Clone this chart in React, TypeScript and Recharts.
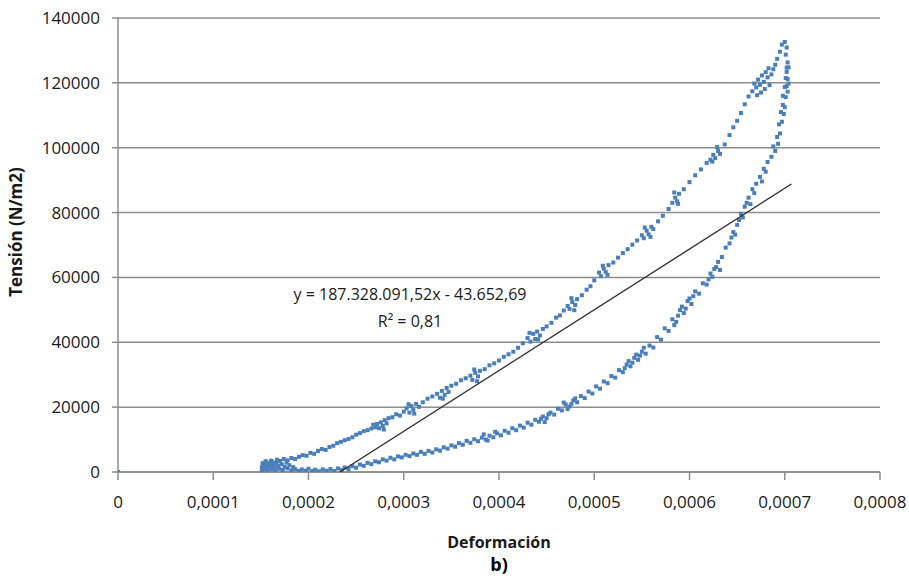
import { CartesianGrid, Scatter, ScatterChart, XAxis, YAxis } from 'recharts';

const xTicks = [0, 0.0001, 0.0002, 0.0003, 0.0004, 0.0005, 0.0006, 0.0007, 0.0008];
const yTicks = [0, 20000, 40000, 60000, 80000, 100000, 120000, 140000];

// lower branch (loading): [strain, stress]
const loadingBranch: [number, number][] = [
  [0, 0],
  [0.000151, 300], [0.000151, 1500], [0.000152, 2700], [0.000153, 800], [0.000154, 2000],
  [0.000155, 3300], [0.000156, 1200], [0.000157, 400], [0.000158, 2500], [0.000159, 1700],
  [0.00016, 3000], [0.000161, 900], [0.000162, 2200], [0.000164, 1500], [0.000165, 500],
  [0.000166, 2800], [0.000168, 1900], [0.000169, 1000], [0.00017, 3400], [0.000172, 2400],
  [0.000173, 600], [0.000175, 1600], [0.000177, 2900], [0.000178, 1100], [0.00018, 2100],
  [0.000182, 500], [0.000184, 1500], [0.000186, 900], [0.00019, 300], [0.000193, 800],
  [0.000197, 400], [0.0002, 1000], [0.000204, 300], [0.000207, 700], [0.000211, 200],
  [0.000215, 800], [0.000219, 400], [0.000223, 900], [0.000227, 300], [0.000231, 1100],
  [0.000235, 600], [0.000238, 1400], [0.000242, 900], [0.000246, 1800], [0.00025, 1300],
  [0.000254, 2300], [0.000258, 1900], [0.000262, 2800], [0.000266, 2400], [0.00027, 3300],
  [0.000274, 3000], [0.000278, 3900], [0.000282, 3500], [0.000286, 4400], [0.00029, 3900],
  [0.000294, 4800], [0.000298, 4500], [0.000302, 5300], [0.000306, 4900], [0.00031, 5700],
  [0.000314, 5300], [0.000318, 6200], [0.000322, 5600], [0.000326, 6500], [0.00033, 6000],
  [0.000334, 7000], [0.000338, 6600], [0.000342, 7600], [0.000346, 7200], [0.00035, 8200],
  [0.000354, 7800], [0.000358, 8900], [0.000362, 8400], [0.000366, 9600], [0.00037, 9000],
  [0.000374, 10100], [0.000378, 9500], [0.000382, 10600], [0.000386, 10000], [0.00039, 11200],
  [0.000394, 10700], [0.000398, 11900], [0.000402, 11300], [0.000406, 12700], [0.00041, 12100],
  [0.000414, 13500], [0.000418, 12900], [0.000422, 14300], [0.000426, 13700], [0.00043, 15200],
  [0.000434, 14600], [0.000438, 16100], [0.000442, 15500], [0.000446, 17100], [0.00045, 16600],
  [0.000454, 18300], [0.000458, 17700], [0.000462, 19500], [0.000466, 19000], [0.00047, 20800],
  [0.000474, 20200], [0.000478, 22100], [0.000482, 21500], [0.000486, 23400], [0.00049, 22800],
  [0.000494, 24800], [0.000498, 24200], [0.000502, 26400], [0.000506, 25700], [0.00051, 27900],
  [0.000514, 27400], [0.000518, 29600], [0.000522, 29100], [0.000526, 31400], [0.00053, 30800],
  [0.000534, 33100], [0.000538, 32600], [0.000542, 35200], [0.000546, 34600], [0.00055, 37100],
  [0.000554, 36500], [0.000558, 39000], [0.000562, 38400], [0.000566, 41600], [0.00057, 40800],
  [0.000574, 44300], [0.000578, 43500], [0.000582, 47100], [0.000586, 46300], [0.00059, 49900],
  [0.000594, 49000], [0.000598, 52700], [0.000602, 51800], [0.000606, 55700], [0.00061, 55000],
  [0.000614, 58200], [0.000618, 57800], [0.000622, 61200], [0.000626, 62600], [0.00063, 64800],
  [0.000634, 66300], [0.000638, 69200], [0.000642, 70500], [0.000646, 74000], [0.00065, 76200],
  [0.000654, 79600], [0.000658, 81800], [0.000662, 84600], [0.000666, 87200], [0.00067, 88900],
  [0.000674, 91000], [0.000678, 93500], [0.000682, 95600], [0.000686, 97200], [0.000688, 100400],
  [0.00069, 99000], [0.000692, 103300], [0.000693, 101200], [0.000694, 107200], [0.000695, 104400],
  [0.000696, 111000], [0.000697, 108000], [0.000698, 113200], [0.000698, 116000], [0.000699, 110400],
  [0.0007, 118700], [0.0007, 112500], [0.000701, 115600], [0.000701, 121500], [0.000702, 119000],
  [0.000702, 123400], [0.000703, 117300], [0.000703, 121200], [0.000704, 124800], [0.000704, 119800],
  // denser clumps along the band
  [0.000384, 11600], [0.000388, 9700], [0.000396, 12400], [0.000444, 16400], [0.000448, 15400],
  [0.000452, 17800], [0.000468, 21400], [0.000472, 19400], [0.000476, 21000], [0.00048, 22700],
  [0.000532, 32000], [0.000536, 34200], [0.00054, 33700], [0.000544, 36200], [0.000548, 35900],
  [0.000552, 38300], [0.000584, 45300], [0.000588, 48200], [0.000592, 51000], [0.000596, 50400],
  [0.0006, 53500], [0.000604, 54200], [0.00062, 59400], [0.000624, 60200], [0.000628, 63200],
  [0.000632, 62300], [0.000644, 72300], [0.000648, 73200], [0.000652, 77700], [0.000656, 78500],
  [0.00066, 83000], [0.000664, 82600], [0.000668, 86000], [0.000676, 89600], [0.00068, 92600],
];

// upper branch (unloading)
const unloadingBranch: [number, number][] = [
  [0.000152, 2600], [0.000155, 3100], [0.000158, 2400], [0.000161, 3500], [0.000164, 2900],
  [0.000167, 3800], [0.00017, 3300], [0.000174, 4000], [0.000178, 3600], [0.000182, 4300],
  [0.000186, 4000], [0.00019, 4700], [0.000194, 5200], [0.000198, 5000], [0.000202, 5900],
  [0.000206, 5600], [0.00021, 6500], [0.000214, 7100], [0.000218, 6800], [0.000222, 7700],
  [0.000226, 8100], [0.00023, 8900], [0.000234, 9300], [0.000238, 9800], [0.000242, 10200],
  [0.000246, 10700], [0.00025, 11500], [0.000254, 12000], [0.000258, 12600], [0.000262, 12900],
  [0.000266, 13400], [0.00027, 13800], [0.000272, 14800], [0.000274, 13500], [0.000276, 15300],
  [0.000278, 14200], [0.00028, 16000], [0.000282, 15000], [0.000284, 16600], [0.000288, 16900],
  [0.000292, 17800], [0.000296, 17400], [0.0003, 18600], [0.000303, 19600], [0.000306, 18300],
  [0.000308, 20300], [0.00031, 19200], [0.000313, 21000], [0.000316, 20100], [0.00032, 21500],
  [0.000325, 22600], [0.00033, 23300], [0.000335, 24100], [0.000338, 22900], [0.00034, 25000],
  [0.000343, 23800], [0.000345, 25900], [0.00035, 26600], [0.000355, 27200], [0.00036, 28300],
  [0.000365, 28900], [0.00037, 29700], [0.000372, 28400], [0.000375, 30600], [0.000378, 29500],
  [0.00038, 31200], [0.000385, 31700], [0.00039, 32900], [0.000395, 33500], [0.0004, 34400],
  [0.000405, 35500], [0.00041, 36300], [0.000415, 37100], [0.00042, 38300], [0.000425, 39700],
  [0.00043, 41300], [0.000433, 40200], [0.000436, 42600], [0.000438, 41000], [0.00044, 43300],
  [0.000443, 42100], [0.000446, 44100], [0.00045, 44900], [0.000455, 46000], [0.00046, 47600],
  [0.000464, 48300], [0.000468, 49800], [0.000472, 51200], [0.000474, 50300], [0.000477, 52400],
  [0.00048, 51500], [0.000482, 53300], [0.000487, 54500], [0.000492, 56200], [0.000496, 57300],
  [0.0005, 59100], [0.000505, 61500], [0.000507, 60400], [0.00051, 62700], [0.000512, 61700],
  [0.000515, 63800], [0.00052, 64600], [0.000525, 66100], [0.00053, 67500], [0.000535, 68700],
  [0.00054, 70100], [0.000545, 71400], [0.00055, 73000], [0.000552, 72100], [0.000555, 74400],
  [0.000557, 73300], [0.00056, 75600], [0.000562, 74900], [0.000567, 77300], [0.000572, 79000],
  [0.000578, 81100], [0.000582, 83000], [0.000585, 84600], [0.000587, 83500], [0.000589, 85800],
  [0.000594, 87200], [0.0006, 89400], [0.000606, 91500], [0.000612, 93300], [0.000618, 95300],
  [0.000622, 96300], [0.000625, 97800], [0.000627, 96800], [0.00063, 99000], [0.000632, 98100],
  [0.000637, 101000], [0.000642, 103900], [0.000646, 106300], [0.00065, 108300], [0.000654, 110700],
  [0.000658, 113400], [0.000662, 115800], [0.000666, 117400], [0.000668, 119800], [0.00067, 118600],
  [0.000672, 121000], [0.000674, 119400], [0.000676, 122300], [0.000678, 120300], [0.00068, 123300],
  [0.000682, 121700], [0.000684, 119300], [0.000686, 122600], [0.000688, 124200], [0.00069, 125600],
  [0.000692, 127400], [0.000695, 129600], [0.000697, 131800], [0.0007, 132600], [0.000702, 130900],
  [0.000701, 128700], [0.000703, 126300], [0.000702, 124700],
  // stray dots around the clumps
  [0.000268, 14600], [0.000279, 13100], [0.000305, 20900], [0.000311, 18000], [0.000341, 22600],
  [0.000347, 24700], [0.000374, 31600], [0.000377, 28000], [0.000432, 42900], [0.000441, 40900],
  [0.000476, 53600], [0.000479, 49900], [0.000509, 63600], [0.000514, 60800], [0.000553, 75400],
  [0.000559, 72500], [0.000584, 86200], [0.000588, 82700], [0.000624, 95700], [0.000629, 100200],
  [0.000671, 116200], [0.000675, 117000], [0.000679, 118100], [0.000683, 124500],
];

// linear trendline from the fitted equation
const TREND_SLOPE = 187328091.52;
const TREND_INTERCEPT = -43652.69;
const TREND_X_END = 0.000707;

const BLUE = '#4A7EBB';
const GRID = '#8c8c8c';
const FONT = '"Open Sans", sans-serif';

const toPoints = (pts: [number, number][]) => pts.map(([x, y]) => ({ x, y }));

const trendData = [-TREND_INTERCEPT / TREND_SLOPE, TREND_X_END].map((x) => ({
  x,
  y: TREND_SLOPE * x + TREND_INTERCEPT,
}));

const formatStrain = (v: number) => (v === 0 ? '0' : v.toFixed(4).replace('.', ','));

const Square = (props: any) => (
  <rect x={props.cx - 2} y={props.cy - 2} width={4} height={4} fill={BLUE} />
);

const NoDot = () => <g />;

export default function App() {
  return (
    <div style={{ position: 'absolute', left: 0, top: 0, width: 909, height: 578, background: '#fff' }}>
      <ScatterChart width={909} height={578} margin={{ top: 18, right: 29, bottom: 76, left: 0 }}>
        <CartesianGrid vertical={false} stroke={GRID} strokeWidth={1.5} />
        <XAxis
          type="number"
          dataKey="x"
          domain={[0, 0.0008]}
          ticks={xTicks}
          interval={0}
          allowDataOverflow
          height={30}
          tickSize={8}
          tickMargin={16}
          tickFormatter={formatStrain}
          axisLine={{ stroke: GRID, strokeWidth: 1.5 }}
          tickLine={{ stroke: GRID, strokeWidth: 1.5 }}
          tick={{ fill: '#1a1a1a', fontSize: 17, fontFamily: FONT }}
        />
        <YAxis
          type="number"
          dataKey="y"
          domain={[0, 140000]}
          ticks={yTicks}
          interval={0}
          allowDataOverflow
          width={118}
          tickSize={6}
          tickMargin={12}
          axisLine={{ stroke: GRID, strokeWidth: 1.5 }}
          tickLine={{ stroke: GRID, strokeWidth: 1.5 }}
          tick={{ fill: '#1a1a1a', fontSize: 17, fontFamily: FONT }}
        />
        <Scatter data={toPoints(loadingBranch)} shape={Square} isAnimationActive={false} />
        <Scatter data={toPoints(unloadingBranch)} shape={Square} isAnimationActive={false} />
        <Scatter
          data={trendData}
          shape={NoDot}
          line={{ stroke: '#2b2b2b', strokeWidth: 1.3 }}
          isAnimationActive={false}
        />
        <text x={410} y={300} textAnchor="middle" fontFamily={FONT} fontSize={16} fill="#1a1a1a">
          y = 187.328.091,52x - 43.652,69
        </text>
        <text x={410} y={327} textAnchor="middle" fontFamily={FONT} fontSize={16} fill="#1a1a1a">
          R² = 0,81
        </text>
        <text x={499} y={548} textAnchor="middle" fontFamily={FONT} fontSize={16} fontWeight="bold" fill="#1a1a1a">
          Deformación
        </text>
        <text x={499} y={571} textAnchor="middle" fontFamily={FONT} fontSize={18} fontWeight="bold" fill="#000">
          b)
        </text>
        <text
          x={22}
          y={232}
          transform="rotate(-90 22 232)"
          textAnchor="middle"
          fontFamily={FONT}
          fontSize={17}
          fontWeight="bold"
          fill="#1a1a1a"
        >
          Tensión (N/m2)
        </text>
      </ScatterChart>
    </div>
  );
}
